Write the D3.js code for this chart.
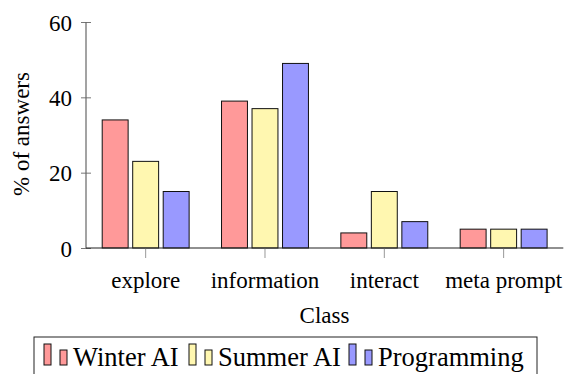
<!DOCTYPE html>
<html>
<head>
<meta charset="utf-8">
<script src="https://cdn.jsdelivr.net/npm/d3@7"></script>
<style>
  body { margin: 0; background: white; }
</style>
</head>
<body>
<svg id="chart"></svg>
<script>
// data
const classes = ['explore', 'information', 'interact', 'meta prompt'];
const series = ['Winter AI', 'Summer AI', 'Programming'];
const winterAI = [34, 39, 4, 5];
const summerAI = [23, 37, 15, 5];
const programming = [15, 49, 7, 5];
const yTicks = [0, 20, 40, 60];
const colors = ['rgb(255,153,153)', 'rgb(255,247,176)', 'rgb(153,153,255)'];

const values = [winterAI, summerAI, programming];
const serifFont = 'serif';

const width = 567, height = 374;
const svg = d3.select('#chart')
    .attr('width', width)
    .attr('height', height);

const xScale = d3.scaleBand()
    .domain(classes)
    .range([86, 563.3]);

const subScale = d3.scaleBand()
    .domain(series)
    .range([-45.75, 45.75])
    .paddingInner(0.15)
    .paddingOuter(0.075);

const yScale = d3.scaleLinear()
    .domain([0, 60])
    .range([248, 22]);

const colorScale = d3.scaleOrdinal()
    .domain(series)
    .range(colors);

// strip the attributes d3.axis puts on its group, set them on each text instead
function cleanAxis(g, anchor, dy) {
  g.attr('fill', null).attr('font-size', null).attr('font-family', null).attr('text-anchor', null);
  g.select('.domain').remove();
  g.selectAll('.tick text')
    .attr('fill', 'black')
    .attr('font-family', serifFont)
    .attr('font-size', 23)
    .attr('text-anchor', anchor)
    .attr('dy', dy);
}

// y axis
const yAxis = d3.axisLeft(yScale)
    .tickValues(yTicks)
    .tickSize(5)
    .tickPadding(9);

svg.append('g')
    .attr('class', 'y-axis')
    .attr('transform', 'translate(86,0)')
    .call(yAxis)
    .call(g => cleanAxis(g, 'end', 8))
    .call(g => g.selectAll('.tick line').attr('x2', 5).attr('x1', -5).attr('stroke', 'rgb(119,119,119)'))
    .call(g => g.selectAll('.tick text').attr('x', -14));

svg.append('line')
    .attr('x1', 86).attr('x2', 86)
    .attr('y1', yScale(60)).attr('y2', yScale(0))
    .attr('stroke', 'rgb(102,102,102)').attr('stroke-width', 1.2);

// bars
const groups = svg.selectAll('.group')
    .data(classes)
    .enter()
  .append('g')
    .attr('class', 'group')
    .attr('transform', d => `translate(${xScale(d) + xScale.bandwidth() / 2},0)`);

groups.selectAll('rect')
    .data((d, i) => series.map((s, j) => ({ s: s, v: values[j][i] })))
    .enter()
  .append('rect')
    .attr('x', d => subScale(d.s))
    .attr('width', subScale.bandwidth())
    .attr('y', d => yScale(d.v))
    .attr('height', d => yScale(0) - yScale(d.v))
    .attr('fill', d => colorScale(d.s))
    .attr('stroke', 'rgb(17,17,17)')
    .attr('stroke-width', 1);

// x axis
const xAxis = d3.axisBottom(xScale)
    .tickSize(10)
    .tickPadding(14);

svg.append('g')
    .attr('class', 'x-axis')
    .attr('transform', 'translate(0,248)')
    .call(xAxis)
    .call(g => cleanAxis(g, 'middle', 16))
    .call(g => g.selectAll('.tick line').attr('stroke', 'rgb(153,153,153)'));

svg.append('line')
    .attr('x1', 86).attr('x2', 563.3)
    .attr('y1', 248).attr('y2', 248)
    .attr('stroke', 'rgb(34,34,34)').attr('stroke-width', 1.2);

// axis titles
svg.append('text')
    .attr('x', 324.5)
    .attr('y', 323)
    .attr('text-anchor', 'middle')
    .attr('font-family', serifFont)
    .attr('font-size', 23)
    .text('Class');

svg.append('text')
    .attr('transform', 'translate(29,134) rotate(-90)')
    .attr('text-anchor', 'middle')
    .attr('font-family', serifFont)
    .attr('font-size', 23)
    .text('% of answers');

// legend
svg.append('rect')
    .attr('x', 34).attr('y', 337)
    .attr('width', 503).attr('height', 60)
    .attr('fill', 'none')
    .attr('stroke', 'rgb(34,34,34)')
    .attr('stroke-width', 1);

const legendX = [73, 218, 378];
const legend = svg.selectAll('.legend-item')
    .data(series)
    .enter()
  .append('g')
    .attr('class', 'legend-item')
    .attr('transform', (d, i) => `translate(${legendX[i]},0)`);

legend.append('rect')
    .attr('x', -29).attr('y', 344)
    .attr('width', 7).attr('height', 21)
    .attr('fill', d => colorScale(d))
    .attr('stroke', 'rgb(17,17,17)');

legend.append('rect')
    .attr('x', -13).attr('y', 350)
    .attr('width', 7).attr('height', 15)
    .attr('fill', d => colorScale(d))
    .attr('stroke', 'rgb(17,17,17)');

legend.append('text')
    .attr('x', 0)
    .attr('y', 366)
    .attr('font-family', serifFont)
    .attr('font-size', 26.5)
    .text(d => d);
</script>
</body>
</html>
